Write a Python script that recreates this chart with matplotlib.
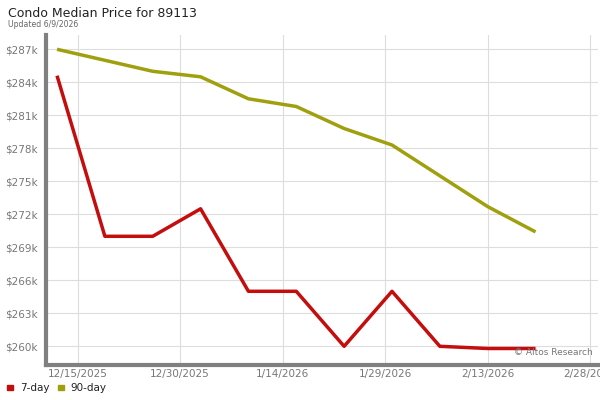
import matplotlib
matplotlib.use('Agg')
import matplotlib.pyplot as plt
import matplotlib.dates as mdates
from matplotlib.ticker import FuncFormatter
import numpy as np
from datetime import datetime

# weekly data points
dates = ['2025-12-12', '2025-12-19', '2025-12-26', '2026-01-02', '2026-01-09',
         '2026-01-16', '2026-01-23', '2026-01-30', '2026-02-06', '2026-02-13',
         '2026-02-20']
price_7day = [284.6, 270.0, 270.0, 272.5, 265.0, 265.0, 260.0, 265.0, 260.0, 259.8, 259.8]
price_90day = [287.0, 286.0, 285.0, 284.5, 282.5, 281.8, 279.8, 278.3, 275.5, 272.7, 270.4]
yticks = [260, 263, 266, 269, 272, 275, 278, 281, 284, 287]
xtick_dates = ['2025-12-15', '2025-12-30', '2026-01-14', '2026-01-29', '2026-02-13', '2026-02-28']

red = '#c40d0d'
olive = '#a0a00e'
grey = '#777777'

x = [datetime.strptime(d, '%Y-%m-%d') for d in dates]
xt = [datetime.strptime(d, '%Y-%m-%d') for d in xtick_dates]

fig = plt.figure(figsize=(6, 4), dpi=100)
ax = fig.add_axes([0.077, 0.0875, 0.92, 0.825])

ax.plot(x, price_90day, color=olive, lw=2.5, solid_capstyle='butt')
ax.plot(x, price_7day, color=red, lw=2.5, solid_capstyle='butt')

ax.set_ylim(258.3, 288.3)
ax.set_xlim(datetime(2025, 12, 10, 10), datetime(2026, 3, 1, 4))
ax.set_yticks(yticks)
ax.yaxis.set_major_formatter(FuncFormatter(lambda v, p: '$%dk' % v))
ax.set_xticks(xt)
ax.set_xticklabels(['%d/%d/%d' % (d.month, d.day, d.year) for d in xt])

ax.grid(True, color='#dddddd', lw=0.8)
ax.set_axisbelow(True)
for s in ['top', 'right']:
    ax.spines[s].set_visible(False)
for s in ['left', 'bottom']:
    ax.spines[s].set_color('#808080')
    ax.spines[s].set_linewidth(3)
ax.tick_params(axis='y', length=0, labelsize=7.5, colors=grey, pad=6)
ax.tick_params(axis='x', length=0, labelsize=7.5, colors=grey, pad=3)

ax.text(0.99, 0.025, '\u00a9 Altos Research', transform=ax.transAxes,
        ha='right', va='bottom', fontsize=6.5, color=grey)

fig.text(0.013, 0.967, 'Condo Median Price for 89113', fontsize=9, color='#222222',
         ha='left', va='center')
fig.text(0.013, 0.938, 'Updated 6/9/2026', fontsize=5.6, color='#666666', ha='left', va='center')

# legend
fig.patches.append(plt.Rectangle((0.012, 0.024), 0.009, 0.014, transform=fig.transFigure,
                                 color=red))
fig.text(0.033, 0.031, '7-day', fontsize=7.5, va='center', color='#222222')
fig.patches.append(plt.Rectangle((0.097, 0.024), 0.009, 0.014, transform=fig.transFigure,
                                 color=olive))
fig.text(0.118, 0.031, '90-day', fontsize=7.5, va='center', color='#222222')

fig.savefig('out.png', dpi=100)
